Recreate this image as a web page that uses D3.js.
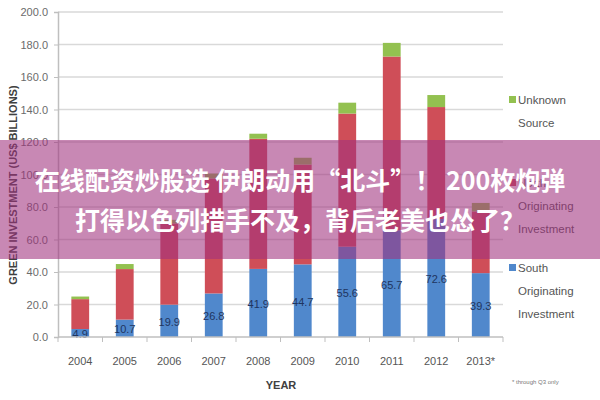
<!DOCTYPE html>
<html><head><meta charset="utf-8">
<script src="https://cdn.jsdelivr.net/npm/d3@7"></script>
<style>body{margin:0;background:#fff}svg{display:block}</style>
</head><body>
<svg id="c" width="600" height="400"></svg>
<script>
const years = ["2004","2005","2006","2007","2008","2009","2010","2011","2012","2013*"];
const south = [4.9,10.7,19.9,26.8,41.9,44.7,55.6,65.7,72.6,39.3];
const north = [18.4,31.1,50.0,70.8,80.1,61.4,81.9,106.9,68.9,38.0];
const unknown = [1.6,3.1,2.2,3.0,3.1,4.2,6.7,8.4,7.4,5.2];
const yTicks = [0,20,40,60,80,100,120,140,160,180,200];
const seriesNames = ["South Originating Investment","North Originating Investment","Unknown Source"];
const colors = ["#5088cc","#cf4e58","#93c150"];
const bannerLines = ["在线配资炒股选 伊朗动用“北斗”！ 200枚炮弹","打得以色列措手不及，背后老美也怂了？"];

const svg = d3.select("#c");
const L=58,R=503,T=12,B=337;
const x = d3.scaleBand().domain(years).range([L,R]).paddingInner(0.6).paddingOuter(0.3);
const y = d3.scaleLinear().domain([0,200]).range([B,T]);

// grid
svg.append("g").selectAll("line").data(yTicks.filter(d=>d>0)).join("line")
  .attr("x1",L).attr("x2",R).attr("y1",d=>y(d)).attr("y2",d=>y(d))
  .attr("stroke","#d9d9d9").attr("stroke-width",1.6);

// y axis
const ya = svg.append("g").attr("transform",`translate(${L},0)`)
  .call(d3.axisLeft(y).tickValues(yTicks).tickFormat(d3.format(".1f")).tickSize(4).tickPadding(6));
ya.select(".domain").attr("stroke","#bfbfbf").attr("stroke-width",1.5);
ya.selectAll(".tick line").attr("stroke","#bfbfbf");
ya.selectAll("text").attr("fill","#6b6b6b").style("font-family","Liberation Sans, Arial").style("font-size","11px");

// stacked bars
const data = years.map((yr,i)=>({year:yr,s:south[i],n:north[i],u:unknown[i]}));
const stack = d3.stack().keys(["s","n","u"])(data);
svg.append("g").selectAll("g").data(stack).join("g").attr("fill",(d,i)=>colors[i])
  .selectAll("rect").data(d=>d).join("rect")
  .attr("x",d=>x(d.data.year)).attr("width",x.bandwidth())
  .attr("y",d=>y(d[1])).attr("height",d=>y(d[0])-y(d[1]));

// value labels
svg.append("g").selectAll("text").data(data).join("text")
  .attr("x",d=>x(d.year)+x.bandwidth()/2).attr("y",d=>y(d.s/2)+5)
  .attr("text-anchor","middle").attr("fill","#1f3560")
  .style("font-family","Liberation Sans, Arial").style("font-size","11px")
  .text(d=>d3.format(".1f")(d.s));

// x axis
const xa = svg.append("g").attr("transform",`translate(0,${B})`);
xa.append("line").attr("x1",L).attr("x2",R).attr("stroke","#bfbfbf").attr("stroke-width",1.5);
const step = x.step();
const bounds = d3.range(years.length+1).map(i=>L+ (i===0?0: x(years[0]) - x.paddingOuter()*step + i*step - (x(years[0]) - L - x.paddingOuter()*step)));
xa.selectAll("line.t").data(d3.range(years.length+1)).join("line").attr("class","t")
  .attr("x1",i=>L+i*(R-L)/years.length).attr("x2",i=>L+i*(R-L)/years.length)
  .attr("y1",0).attr("y2",5).attr("stroke","#bfbfbf");
xa.selectAll("text").data(years).join("text")
  .attr("x",d=>x(d)+x.bandwidth()/2).attr("y",28).attr("text-anchor","middle")
  .attr("fill","#555").style("font-family","Liberation Sans, Arial").style("font-size","11px").text(d=>d);

svg.append("text").attr("x",281).attr("y",389).attr("text-anchor","middle")
  .attr("fill","#404040").style("font-family","Liberation Sans, Arial").style("font-size","11px").style("font-weight","bold").text("YEAR");
svg.append("text").attr("transform","translate(17,185) rotate(-90)").attr("text-anchor","middle")
  .attr("fill","#404040").style("font-family","Liberation Sans, Arial").style("font-size","11px").style("font-weight","bold")
  .text("GREEN INVESTMENT (US$ BILLIONS)");
svg.append("text").attr("x",512).attr("y",384).attr("fill","#777")
  .style("font-family","Liberation Sans, Arial").style("font-size","6px").text("* through Q3 only");

// legend
const leg = [
  {name:["Unknown","Source"],c:colors[2],y:103},
  {name:["North","Originating","Investment"],c:colors[1],y:186},
  {name:["South","Originating","Investment"],c:colors[0],y:271}];
const lg = svg.append("g").selectAll("g").data(leg).join("g");
lg.append("rect").attr("x",509).attr("y",d=>d.y-7).attr("width",7).attr("height",7).attr("fill",d=>d.c);
lg.each(function(d){
  d3.select(this).selectAll("text").data(d.name).join("text")
    .attr("x",518).attr("y",(t,i)=>d.y+i*23+1).attr("fill","#555")
    .style("font-family","Liberation Sans, Arial").style("font-size","11.5px").text(t=>t);
});

// banner overlay
svg.append("rect").attr("x",0).attr("y",140).attr("width",600).attr("height",119)
  .attr("fill","rgb(160,50,125)").attr("fill-opacity",0.58);
svg.append("g").selectAll("text").data(bannerLines).join("text")
  .attr("x",300).attr("y",(d,i)=>190+i*40).attr("text-anchor","middle").attr("fill","#fff")
  .style("font-family","Noto Sans CJK SC").style("font-weight","bold").style("font-size","25px").text(d=>d);
</script>
</body></html>
